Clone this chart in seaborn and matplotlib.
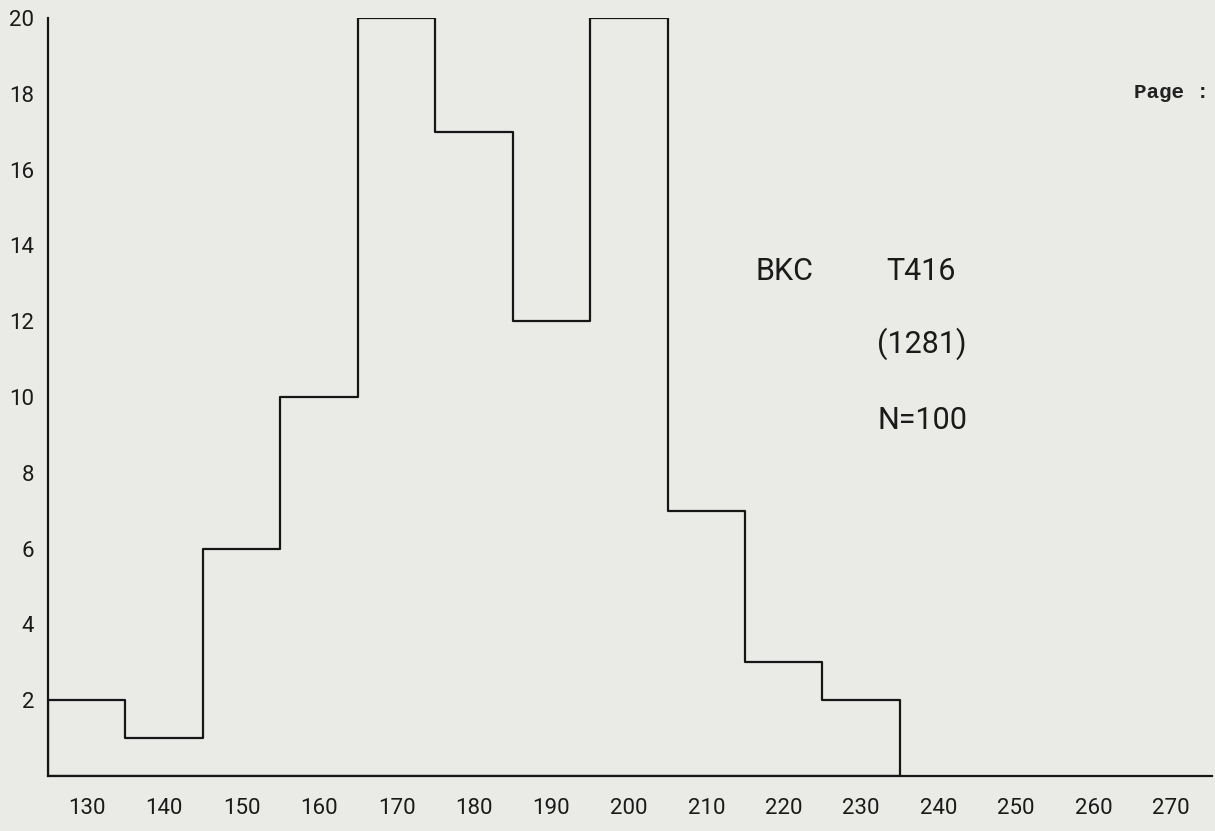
import matplotlib
matplotlib.use("Agg")
import matplotlib.pyplot as plt
import seaborn as sns

# data
bin_edges = [125, 135, 145, 155, 165, 175, 185, 195, 205, 215, 225, 235]
counts = [2, 1, 6, 10, 20, 17, 12, 20, 7, 3, 2]
x_ticks = [130, 140, 150, 160, 170, 180, 190, 200, 210, 220, 230, 240, 250, 260, 270]
y_ticks = [2, 4, 6, 8, 10, 12, 14, 16, 18, 20]

bin_centers = [(a + b) / 2 for a, b in zip(bin_edges[:-1], bin_edges[1:])]

sns.set_style("white")
plt.rcParams['font.family'] = ['Roboto', 'DejaVu Sans']
bg = "#eaeae7"
ink = "#161616"

fig = plt.figure(figsize=(12.15, 8.31), dpi=100, facecolor=bg)
ax = fig.add_axes([48 / 1215, 1 - 776 / 831, (1212 - 48) / 1215, (776 - 18) / 831])
ax.set_facecolor(bg)

sns.histplot(x=bin_centers, weights=counts, bins=bin_edges, element="step",
             fill=True, color=ink, facecolor=bg, edgecolor=ink, alpha=1,
             linewidth=1.6, ax=ax)

ax.set_xlim(125, 275.3)
ax.set_ylim(0, 20)
ax.set_xticks(x_ticks)
ax.set_yticks(y_ticks)
ax.set_xlabel("")
ax.set_ylabel("")
ax.tick_params(axis="both", length=0, labelsize=16, colors="#1a1a1a")
ax.tick_params(axis="x", pad=16)
ax.tick_params(axis="y", pad=10)
for s in ["top", "right"]:
    ax.spines[s].set_visible(False)
for s in ["left", "bottom"]:
    ax.spines[s].set_color(ink)
    ax.spines[s].set_linewidth(1.6)

big = dict(fontsize=22, color="#1a1a1a", ha="left", va="center")
fig.text(756 / 1215, 1 - 271 / 831, "BKC", **big)
fig.text(886 / 1215, 1 - 271 / 831, "T416", **big)
fig.text(877 / 1215, 1 - 344 / 831, "(1281)", **big)
fig.text(878 / 1215, 1 - 421 / 831, "N=100", **big)
fig.text(1134 / 1215, 1 - 92 / 831, "Page :", fontsize=15, family="Liberation Mono",
         weight="bold", color="#222222", ha="left", va="center")

fig.savefig("out.png", dpi=100, facecolor=bg)
